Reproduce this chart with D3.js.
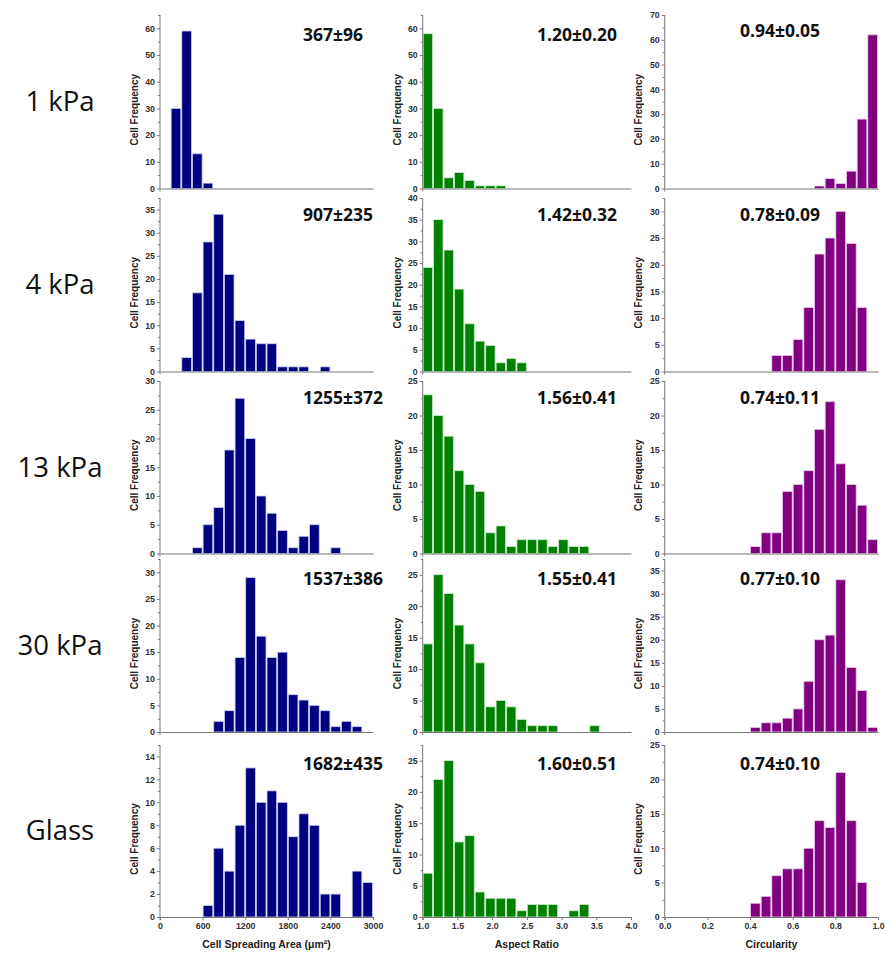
<!DOCTYPE html>
<html>
<head>
<meta charset="utf-8">
<script src="https://cdn.jsdelivr.net/npm/d3@7"></script>
<style>
  body { margin: 0; background: #fff; }
  .tick text { font-family: "Liberation Sans", Arial, sans-serif; font-weight: bold; fill: #333; }
  .axis path, .axis line { stroke: #777; }
</style>
</head>
<body>
<div class="chart"></div>
<script>
// row labels + stats text
var rowLabels = ["1 kPa", "4 kPa", "13 kPa", "30 kPa", "Glass"];
var areaStats = ["367\u00b196", "907\u00b1235", "1255\u00b1372", "1537\u00b1386", "1682\u00b1435"];
var ratioStats = ["1.20\u00b10.20", "1.42\u00b10.32", "1.56\u00b10.41", "1.55\u00b10.41", "1.60\u00b10.51"];
var circStats = ["0.94\u00b10.05", "0.78\u00b10.09", "0.74\u00b10.11", "0.77\u00b10.10", "0.74\u00b10.10"];

// cell spreading area histograms (bin 150 um2)
var areaBinStart = [150, 300, 450, 750, 600];
var areaCounts = [
  [30, 59, 13, 2],
  [3, 17, 28, 34, 21, 11, 7, 6, 6, 1, 1, 1, 0, 1],
  [1, 5, 8, 18, 27, 20, 10, 7, 4, 1, 3, 5, 0, 1],
  [2, 4, 14, 29, 18, 14, 15, 7, 6, 5, 4, 1, 2, 1],
  [1, 6, 4, 8, 13, 10, 11, 10, 7, 9, 8, 2, 2, 0, 4, 3]
];
var areaYMax = [65, 37.5, 30, 32.5, 15];
var areaYStep = [10, 5, 5, 5, 2];

// aspect ratio histograms (bin 0.15)
var ratioBinStart = [1.0, 1.0, 1.0, 1.0, 1.0];
var ratioCounts = [
  [58, 30, 4, 6, 3, 1, 1, 1],
  [24, 35, 28, 19, 11, 7, 6, 2, 3, 2],
  [23, 20, 17, 12, 10, 9, 3, 4, 1, 2, 2, 2, 1, 2, 1, 1],
  [14, 25, 22, 17, 14, 11, 4, 5, 4, 2, 1, 1, 1, 0, 0, 0, 1],
  [7, 22, 25, 12, 13, 4, 3, 3, 3, 1, 2, 2, 2, 0, 1, 2]
];
var ratioYMax = [65, 40, 25, 27.5, 27.5];
var ratioYStep = [10, 5, 5, 5, 5];

// circularity histograms (bin 0.05)
var circBinStart = [0.70, 0.50, 0.40, 0.40, 0.40];
var circCounts = [
  [1, 4, 2, 7, 28, 62],
  [3, 3, 6, 12, 22, 25, 30, 24, 12],
  [1, 3, 3, 9, 10, 12, 18, 22, 13, 10, 7, 2],
  [1, 2, 2, 3, 5, 11, 20, 21, 33, 14, 9, 1],
  [2, 3, 6, 7, 7, 10, 14, 13, 21, 14, 5]
];
var circYMax = [70, 32.5, 25, 37.5, 25];
var circYStep = [10, 5, 5, 5, 5];

// x axes (bottom row only labelled)
var areaTicks = [0, 600, 1200, 1800, 2400, 3000];
var ratioTicks = [1.0, 1.5, 2.0, 2.5, 3.0, 3.5, 4.0];
var circTicks = [0.0, 0.2, 0.4, 0.6, 0.8, 1.0];

var width = 886, height = 957;
var rowTop = [15, 198, 381, 559, 745];
var rowBottom = [188.5, 371.5, 553.5, 732, 917];
var statBase = [41, 221, 404, 585, 770];

var cols = [
  {x0: 160, x1: 373, domain: [0, 3000], bin: 150, starts: areaBinStart, counts: areaCounts, ymax: areaYMax, ystep: areaYStep,
   stats: areaStats, ticks: areaTicks, fmt: d3.format("d"), fill: "#000080", edge: "#c9cdf2", statX: 303, labelX: 134, title: "Cell Spreading Area (\u03bcm\u00b2)"},
  {x0: 422.7, x1: 631, domain: [1, 4], bin: 0.15, starts: ratioBinStart, counts: ratioCounts, ymax: ratioYMax, ystep: ratioYStep,
   stats: ratioStats, ticks: ratioTicks, fmt: d3.format(".1f"), fill: "#008000", edge: "#c8ecc8", statX: 537, labelX: 397, title: "Aspect Ratio"},
  {x0: 664.7, x1: 878, domain: [0, 1], bin: 0.05, starts: circBinStart, counts: circCounts, ymax: circYMax, ystep: circYStep,
   stats: circStats, ticks: circTicks, fmt: d3.format(".1f"), fill: "#800080", edge: "#ecc8ec", statX: 740, labelX: 638.5, title: "Circularity"}
];

var svg = d3.select(".chart")
  .append("svg")
    .attr("width", width)
    .attr("height", height)
    .style("font-family", "'Liberation Sans', Arial, sans-serif");

svg.append("rect").attr("width", width).attr("height", height).attr("fill", "#fff");

// row labels
rowLabels.forEach(function(lab, r) {
  svg.append("text")
    .attr("x", 60)
    .attr("y", (rowTop[r] + rowBottom[r]) / 2 + 2)
    .attr("text-anchor", "middle")
    .attr("dominant-baseline", "middle")
    .style("font-family", "'Open Sans', sans-serif")
    .style("font-size", "27.5px")
    .style("fill", "#111")
    .text(lab);
});

cols.forEach(function(c, ci) {
  var x = d3.scaleLinear().domain(c.domain).range([c.x0, c.x1]);

  rowLabels.forEach(function(lab, r) {
    var y = d3.scaleLinear().domain([0, c.ymax[r]]).range([rowBottom[r], rowTop[r]]);
    var g = svg.append("g");

    // bars
    var bars = c.counts[r].map(function(v, i) {
      return {lo: c.starts[r] + i * c.bin, hi: c.starts[r] + (i + 1) * c.bin, v: v};
    }).filter(function(d) { return d.v > 0; });

    g.selectAll("rect")
      .data(bars)
      .enter().append("rect")
        .attr("x", function(d) { return x(d.lo) + 0.5; })
        .attr("y", function(d) { return y(d.v); })
        .attr("width", function(d) { return x(d.hi) - x(d.lo) - 1; })
        .attr("height", function(d) { return y(0) - y(d.v); })
        .attr("fill", c.fill)
        .attr("stroke", c.edge)
        .attr("stroke-width", 0.8);

    // y axis: major + minor ticks
    var major = d3.range(0, c.ymax[r] + 0.001, c.ystep[r]);
    var minor = d3.range(c.ystep[r] / 2, c.ymax[r] + 0.001, c.ystep[r]);
    g.append("g")
      .attr("class", "axis")
      .attr("transform", "translate(" + c.x0 + ",0)")
      .call(d3.axisLeft(y).tickValues(minor).tickSize(2).tickFormat(""))
      .call(function(s) { s.select(".domain").remove(); });
    var ya = g.append("g")
      .attr("class", "axis")
      .attr("transform", "translate(" + c.x0 + ",0)")
      .call(d3.axisLeft(y).tickValues(major).tickSize(3).tickPadding(2).tickSizeOuter(0).tickFormat(d3.format("d")));
    ya.selectAll("text").style("font-size", "8.8px");
    ya.select(".domain").attr("d", "M0," + (rowBottom[r] + 3) + "V" + rowTop[r]);

    // x axis line
    var isLast = r === rowLabels.length - 1;
    var xa = g.append("g")
      .attr("class", "axis")
      .attr("transform", "translate(0," + rowBottom[r] + ")")
      .call(d3.axisBottom(x).tickValues(isLast ? c.ticks : []).tickSize(isLast ? 3 : 0).tickSizeOuter(0).tickFormat(c.fmt));
    xa.selectAll("text").style("font-size", "8.8px");

    // y label
    g.append("text")
      .attr("transform", "translate(" + c.labelX + "," + ((rowTop[r] + rowBottom[r]) / 2 + 8) + ") rotate(-90)")
      .attr("text-anchor", "middle")
      .attr("dy", "0.35em")
      .style("font-size", "10px")
      .style("font-weight", "bold")
      .style("fill", "#222")
      .text("Cell Frequency");

    // mean +- sd
    g.append("text")
      .attr("x", c.statX)
      .attr("y", statBase[r] - (ci === 2 && r === 0 ? 4 : 0))
      .style("font-family", "'Open Sans', sans-serif")
      .style("font-size", "17.5px")
      .style("font-weight", "bold")
      .style("fill", "#111")
      .text(c.stats[r]);
  });

  // axis title
  svg.append("text")
    .attr("x", (c.x0 + c.x1) / 2)
    .attr("y", 948)
    .attr("text-anchor", "middle")
    .style("font-size", "10.5px")
    .style("font-weight", "bold")
    .style("fill", "#222")
    .text(c.title);
});
</script>
</body>
</html>
